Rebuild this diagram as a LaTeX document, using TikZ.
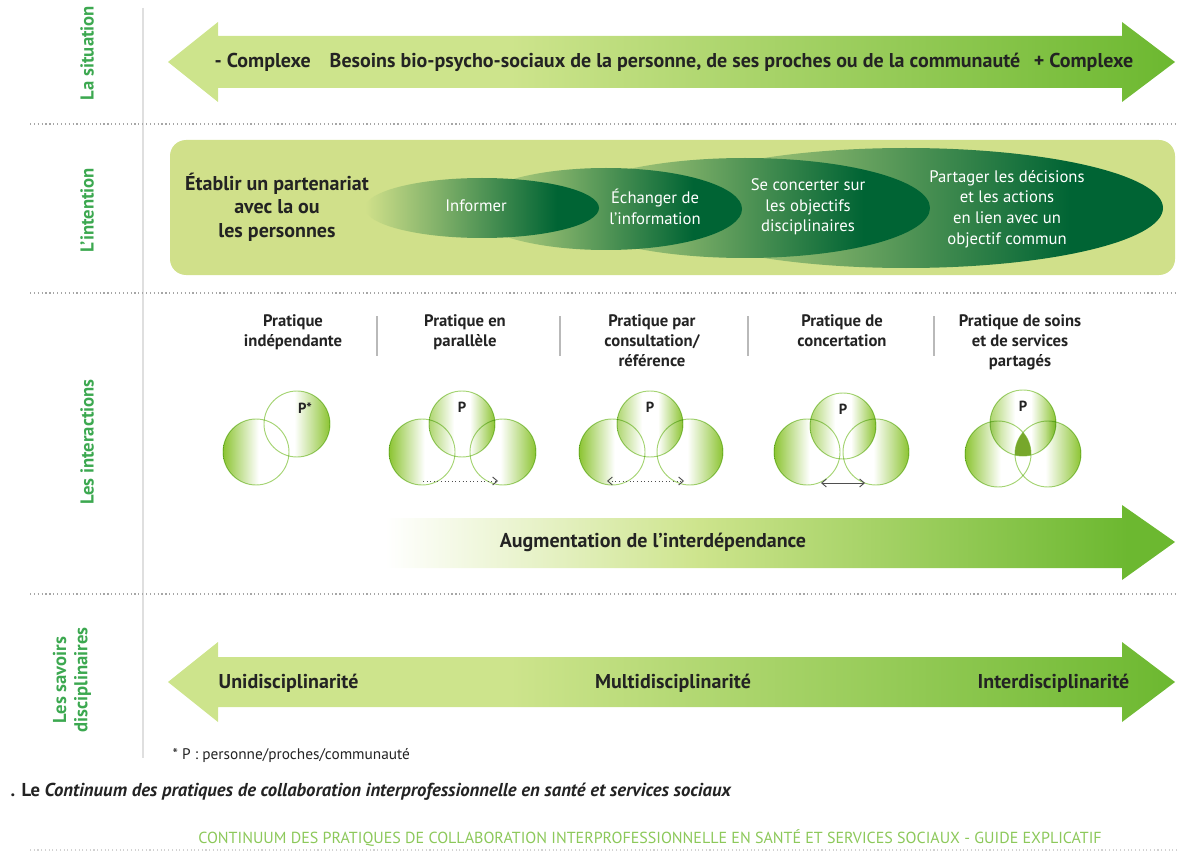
\documentclass[tikz,border=0pt]{standalone}
\usepackage{fontspec}
\setmainfont{PT Sans}
\usetikzlibrary{arrows.meta, positioning, calc}
\definecolor{LabelGreen}{RGB}{60, 168, 80}
\definecolor{IntentBg}{RGB}{208, 224, 138}
\definecolor{OvalGreen}{RGB}{0, 100, 52}
\definecolor{ArrowLight}{RGB}{205, 228, 140}
\definecolor{ArrowGreen}{RGB}{108, 184, 48}
\definecolor{RingGreen}{RGB}{140, 196, 50}
\definecolor{RingEdge}{RGB}{165, 212, 115}
\definecolor{FootGreen}{RGB}{140, 200, 90}
\definecolor{TextDark}{RGB}{35, 35, 35}
\pgfdeclarehorizontalshading{ringleft}{100bp}{color(0bp)=(RingGreen); color(25bp)=(RingGreen); color(52bp)=(white); color(100bp)=(white)}
\pgfdeclarehorizontalshading{ringright}{100bp}{color(0bp)=(white); color(48bp)=(white); color(75bp)=(RingGreen); color(100bp)=(RingGreen)}
\pgfdeclarehorizontalshading{ringboth}{100bp}{color(0bp)=(RingGreen!70); color(25bp)=(RingGreen!70); color(44bp)=(white); color(56bp)=(white); color(75bp)=(RingGreen); color(100bp)=(RingGreen)}
\pgfdeclarehorizontalshading{ovalfade}{100bp}{color(0bp)=(IntentBg); color(25bp)=(IntentBg); color(66bp)=(OvalGreen); color(100bp)=(OvalGreen)}
\pgfdeclarehorizontalshading{bandfade}{100bp}{color(0bp)=(ArrowLight); color(25bp)=(ArrowLight); color(42bp)=(ArrowLight); color(75bp)=(ArrowGreen); color(100bp)=(ArrowGreen)}
\pgfdeclarehorizontalshading{risefade}{100bp}{color(0bp)=(white); color(25bp)=(white); color(45bp)=(ArrowLight); color(72bp)=(ArrowGreen); color(100bp)=(ArrowGreen)}

\begin{document}
\begin{tikzpicture}[x=0.75pt, y=-0.75pt]
        \tikzset{
            side_label/.style={rotate=90, text=LabelGreen, font=\fontsize{14}{16}\selectfont\bfseries, align=center},
            band_text/.style={text=TextDark, font=\fontsize{15}{17}\selectfont\bfseries},
            oval_text/.style={text=white, font=\fontsize{12.5}{15.5}\selectfont, align=center},
            header/.style={text=TextDark, font=\fontsize{12.5}{15}\selectfont\bfseries, align=center, anchor=north, inner sep=0pt},
            separator/.style={draw=gray!70, dotted, line width=0.9pt},
            ring_base/.style={circle, minimum size=49.5pt, inner sep=0pt, shade, draw=RingEdge, line width=0.7pt},
            ringL/.style={ring_base, shading=ringleft},
            ringR/.style={ring_base, shading=ringright},
            ringT/.style={ring_base, shading=ringboth},
            plabel/.style={text=TextDark, font=\fontsize{11}{12}\selectfont\bfseries, inner sep=0pt},
            link/.style={draw=TextDark!80, line width=0.7pt, >={Straight Barb[length=3.5pt, width=6pt]}}
        }
        \useasboundingbox (0,0) rectangle (1177,852);

        % frame lines
        \draw[gray!25, line width=0.8pt] (143,8) -- (143,758);
        \draw[separator] (30,124) -- (1177,124);
        \draw[separator] (30,293) -- (1177,293);
        \draw[separator] (30,594) -- (1177,594);
        \draw[draw=gray!35, dotted, line width=0.8pt] (30,850) -- (1177,850);

        \node[side_label] (l_sit) at (87,53) {La situation};
        \node[side_label] (l_int) at (87,210) {L'intention};
        \node[side_label] (l_inter) at (87,442) {Les interactions};
        \node[side_label] (l_sav) at (72,680) {Les savoirs\\disciplinaires};

        % la situation
        \shade[shading=bandfade] (168,62) -- (218,22) -- (218,36) -- (1122,36) -- (1122,22) -- (1175,62)
            -- (1122,102) -- (1122,88) -- (218,88) -- (218,102) -- cycle;
        \node[band_text, anchor=west] (s_less) at (210,62) {- Complexe};
        \node[band_text] (s_needs) at (675,62) {Besoins bio-psycho-sociaux de la personne, de ses proches ou de la communauté};
        \node[band_text, anchor=east] (s_more) at (1138,62) {+ Complexe};

        % l'intention
        \fill[IntentBg, rounded corners=12pt] (170,140) rectangle (1175,275);
        \shade[shading=ovalfade] (906,208) ellipse (257 and 60);
        \shade[shading=ovalfade] (745,208) ellipse (185 and 50);
        \shade[shading=ovalfade] (606,209) ellipse (136 and 41);
        \shade[shading=ovalfade] (482,208) ellipse (117 and 30);
        \node[text=TextDark, font=\fontsize{15}{17.5}\selectfont\bfseries, align=center] (i_part) at (277,207) {Établir un partenariat\\avec la ou\\les personnes};
        \node[oval_text] (i_inf) at (476,206) {Informer};
        \node[oval_text] (i_ech) at (655,207) {Échanger de\\l'information};
        \node[oval_text] (i_conc) at (808,207) {Se concerter sur\\les objectifs\\disciplinaires};
        \node[oval_text] (i_share) at (1007,209) {Partager les décisions\\et les actions\\en lien avec un\\objectif commun};

        % les interactions
        \node[header] (h1) at (293,314) {Pratique\\indépendante};
        \node[header] (h2) at (465,314) {Pratique en\\parallèle};
        \node[header] (h3) at (652,314) {Pratique par\\consultation/\\référence};
        \node[header] (h4) at (842,314) {Pratique de\\concertation};
        \node[header] (h5) at (1020,314) {Pratique de soins\\et de services\\partagés};
        \foreach \xs in {377,560,748,934}
            \draw[gray!55, line width=0.8pt] (\xs,316) -- (\xs,356);

        \begin{scope}[blend mode=multiply]
            \node[ringL] (g1l) at (256,452) {};
            \node[ringR] (g1t) at (297,424) {};

            \node[ringL] (g2l) at (422,452) {};
            \node[ringR] (g2r) at (503,452) {};
            \node[ringT] (g2t) at (462,424) {};

            \node[ringL] (g3l) at (612,452) {};
            \node[ringR] (g3r) at (690,452) {};
            \node[ringT] (g3t) at (650,424) {};

            \node[ringL] (g4l) at (807,452) {};
            \node[ringR] (g4r) at (876,452) {};
            \node[ringT] (g4t) at (843,426) {};

            \node[ringL] (g5l) at (998,454) {};
            \node[ringR] (g5r) at (1048,454) {};
            \node[ringT] (g5t) at (1023,423) {};
        \end{scope}
        \begin{scope}
            \clip (g5l.center) circle (33);
            \clip (g5r.center) circle (33);
            \fill[RingGreen!85!black] (g5t.center) circle (33);
        \end{scope}

        \node[plabel] (p1) at (305,408) {P*};
        \node[plabel] (p2) at (462,407) {P};
        \node[plabel] (p3) at (650,407) {P};
        \node[plabel] (p4) at (843,409) {P};
        \node[plabel] (p5) at (1023,406) {P};

        \coordinate (a2l) at (423,481);
        \coordinate (a2r) at (498,481);
        \coordinate (a3l) at (607,481);
        \coordinate (a3r) at (684,481);
        \coordinate (a4l) at (821,483);
        \coordinate (a4r) at (865,483);
        \draw[link, dotted, ->] (a2l) -- (a2r);
        \draw[link, dotted, <->] (a3l) -- (a3r);
        \draw[link, <->] (a4l) -- (a4r);

        \shade[shading=risefade] (385,518) -- (1122,518) -- (1122,505) -- (1175,542) -- (1122,580) -- (1122,568) -- (385,568) -- cycle;
        \node[band_text] (r_text) at (653,542) {Augmentation de l'interdépendance};

        % les savoirs disciplinaires
        \shade[shading=bandfade] (168,682) -- (218,642) -- (218,657) -- (1122,657) -- (1122,642) -- (1175,682)
            -- (1122,722) -- (1122,707) -- (218,707) -- (218,722) -- cycle;
        \node[band_text, anchor=west] (d_uni) at (214,683) {Unidisciplinarité};
        \node[band_text] (d_multi) at (673,683) {Multidisciplinarité};
        \node[band_text, anchor=east] (d_inter) at (1134,683) {Interdisciplinarité};

        \node[anchor=west, text=TextDark, font=\fontsize{11.5}{13}\selectfont] (fn) at (168,756) {* P : personne/proches/communauté};
        \node[anchor=west, text=TextDark, font=\fontsize{14}{16}\selectfont\bfseries] (cap) at (6,792) {. Le \textit{Continuum des pratiques de collaboration interprofessionnelle en santé et services sociaux}};
        \node[text=FootGreen, font=\fontsize{12}{14}\selectfont] (foot) at (650,838) {CONTINUUM DES PRATIQUES DE COLLABORATION INTERPROFESSIONNELLE EN SANTÉ ET SERVICES SOCIAUX - GUIDE EXPLICATIF};

    \end{tikzpicture}
\end{document}
